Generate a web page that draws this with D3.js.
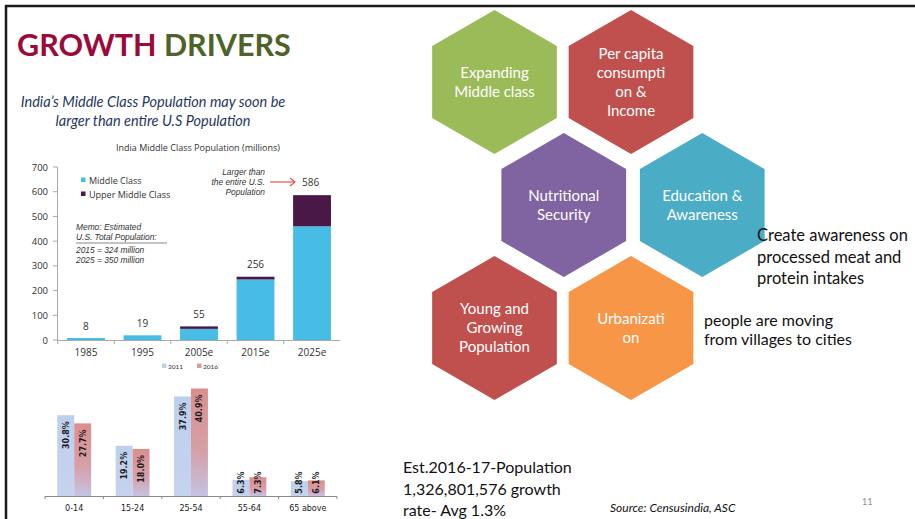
<!DOCTYPE html>
<html>
<head>
<meta charset="utf-8">
<script src="https://cdn.jsdelivr.net/npm/d3@7"></script>
<style>
  html, body { margin: 0; padding: 0; background: #fff; }
  svg { display: block; font-family: Lato, 'Noto Sans', sans-serif; }
</style>
</head>
<body>
<div id="viz"></div>
<script>
// Top chart data (millions)
const years = ['1985', '1995', '2005e', '2015e', '2025e'];
const middleClass = [8, 19, 45, 245, 460];
const upperMiddle = [0, 0, 10, 11, 126];
const totals = [8, 19, 55, 256, 586];
const yTicks = [0, 100, 200, 300, 400, 500, 600, 700];

// Bottom chart data (% share of population)
const ageGroups = ['0-14', '15-24', '25-54', '55-64', '65 above'];
const share2011 = [30.8, 19.2, 37.9, 6.3, 5.8];
const share2016 = [27.7, 18.0, 40.9, 7.3, 6.1];
const censusYears = ['2011', '2016'];

// Hexagons
const driverLabels = [
  ['Expanding', 'Middle class'],
  ['Per capita', 'consumpti', 'on &', 'Income'],
  ['Nutritional', 'Security'],
  ['Education &', 'Awareness'],
  ['Young and', 'Growing', 'Population'],
  ['Urbanizati', 'on']
];
const driverColors = ['#9BBB59', '#C0504D', '#8064A2', '#4BACC6', '#C0504D', '#F79646'];
const driverCols = [0, 1, 0.5, 1.5, 0, 1];
const driverRows = [0, 0, 1, 1, 2, 2];

const width = 915;
const height = 519;

const svg = d3.select('#viz')
  .append('svg')
    .attr('width', width)
    .attr('height', height);

svg.append('rect').attr('width', width).attr('height', height).attr('fill', '#fff');

// slide border (top + left)
svg.append('line').attr('x1', 5).attr('x2', width).attr('y1', 6).attr('y2', 6)
  .attr('stroke', '#1a1a1a').attr('stroke-width', 2.5);
svg.append('line').attr('x1', 6).attr('x2', 6).attr('y1', 5).attr('y2', height)
  .attr('stroke', '#1a1a1a').attr('stroke-width', 2.5);

// Title
const title = svg.append('text')
  .attr('x', 17).attr('y', 56)
  .style('font-size', '30.5px').style('font-weight', 'bold');
title.append('tspan').attr('fill', '#9A0A3A').text('GROWTH ');
title.append('tspan').attr('fill', '#4F6228').text('DRIVERS');

svg.append('text')
  .attr('x', 153).attr('y', 107)
  .attr('text-anchor', 'middle')
  .attr('fill', '#1F3864')
  .style('font-size', '14.5px').style('font-style', 'italic')
  .text('India\u2019s Middle Class Population may soon be');
svg.append('text')
  .attr('x', 153).attr('y', 126)
  .attr('text-anchor', 'middle')
  .attr('fill', '#1F3864')
  .style('font-size', '14.5px').style('font-style', 'italic')
  .text('larger than entire U.S Population');

// ---------- Top chart: India middle class population ----------
const topChart = svg.append('g').style('font-family', "'Open Sans', sans-serif");

const xTop = d3.scaleBand()
  .domain(years)
  .range([58, 340])
  .paddingInner(0.33)
  .paddingOuter(0.16);

const yTop = d3.scaleLinear()
  .domain([0, 700])
  .range([340, 167]);

topChart.append('text')
  .attr('x', 198).attr('y', 150.5)
  .attr('text-anchor', 'middle')
  .attr('fill', '#333')
  .style('font-size', '9px')
  .text('India Middle Class Population (millions)');

// y axis
topChart.append('line')
  .attr('x1', 57.5).attr('x2', 57.5)
  .attr('y1', yTop(700)).attr('y2', yTop(0))
  .attr('stroke', '#aaa');
topChart.selectAll('.ytick')
  .data(yTicks)
  .join('line')
    .attr('x1', 53).attr('x2', 57.5)
    .attr('y1', d => yTop(d)).attr('y2', d => yTop(d))
    .attr('stroke', '#aaa');
topChart.selectAll('.ylab')
  .data(yTicks)
  .join('text')
    .attr('x', 48).attr('y', d => yTop(d) + 3.5)
    .attr('text-anchor', 'end')
    .attr('fill', '#333')
    .style('font-size', '9.5px')
    .text(d => d);

// bars: middle class then upper middle class stacked
topChart.selectAll('.mc')
  .data(years)
  .join('rect')
    .attr('x', d => xTop(d))
    .attr('width', xTop.bandwidth())
    .attr('y', (d, i) => yTop(middleClass[i]))
    .attr('height', (d, i) => yTop(0) - yTop(middleClass[i]))
    .attr('fill', '#47BDE6');
topChart.selectAll('.umc')
  .data(years)
  .join('rect')
    .attr('x', d => xTop(d))
    .attr('width', xTop.bandwidth())
    .attr('y', (d, i) => yTop(middleClass[i] + upperMiddle[i]))
    .attr('height', (d, i) => yTop(middleClass[i]) - yTop(middleClass[i] + upperMiddle[i]))
    .attr('fill', '#4A1846');

// x axis
topChart.append('line')
  .attr('x1', 57).attr('x2', 340)
  .attr('y1', 340.5).attr('y2', 340.5)
  .attr('stroke', '#aaa');
topChart.selectAll('.xtick')
  .data(years)
  .join('line')
    .attr('x1', d => xTop(d) - xTop.step() * xTop.paddingInner() / 2)
    .attr('x2', d => xTop(d) - xTop.step() * xTop.paddingInner() / 2)
    .attr('y1', 340.5).attr('y2', 344)
    .attr('stroke', '#aaa');
topChart.selectAll('.xlab')
  .data(years)
  .join('text')
    .attr('x', d => xTop(d) + xTop.bandwidth() / 2)
    .attr('y', 355.5)
    .attr('text-anchor', 'middle')
    .attr('fill', '#333')
    .style('font-size', '10px')
    .text(d => d);

// total labels (the last one sits beside the arrow)
topChart.selectAll('.tot')
  .data(years.slice(0, 4))
  .join('text')
    .attr('x', d => xTop(d) + xTop.bandwidth() / 2)
    .attr('y', (d, i) => yTop(totals[i]) - 8.5)
    .attr('text-anchor', 'middle')
    .attr('fill', '#333')
    .style('font-size', '10px')
    .text((d, i) => totals[i]);
topChart.append('text')
  .attr('x', 302).attr('y', 185.5)
  .attr('fill', '#333')
  .style('font-size', '10px')
  .text(totals[4]);

// arrow
topChart.append('line')
  .attr('x1', 270).attr('x2', 295).attr('y1', 182).attr('y2', 182)
  .attr('stroke', '#E8504C').attr('stroke-width', 1.2);
topChart.append('path')
  .attr('d', 'M290,178 L295,182 L290,186')
  .attr('fill', 'none').attr('stroke', '#E8504C').attr('stroke-width', 1.2);

// annotation
['Larger than', 'the entire U.S.', 'Population'].forEach((t, i) => {
  topChart.append('text')
    .attr('x', 265).attr('y', 175 + i * 10)
    .attr('text-anchor', 'end')
    .attr('fill', '#333')
    .style('font-family', "'Liberation Sans', sans-serif")
    .style('font-size', '8.4px').style('font-style', 'italic')
    .text(t);
});

// legend
const topLegend = [['Middle Class', '#47BDE6'], ['Upper Middle Class', '#4A1846']];
topLegend.forEach((l, i) => {
  topChart.append('rect')
    .attr('x', 81).attr('y', 177.5 + i * 14).attr('width', 4.5).attr('height', 4.5)
    .attr('fill', l[1]);
  topChart.append('text')
    .attr('x', 89).attr('y', 183.5 + i * 14)
    .attr('fill', '#333')
    .style('font-size', '9px')
    .text(l[0]);
});

// memo
const memo = ['Memo: Estimated', 'U.S. Total Population:', '2015 = 324 million', '2025 = 350 million'];
const memoY = [230, 240, 252.5, 262.5];
memo.forEach((t, i) => {
  topChart.append('text')
    .attr('x', 76).attr('y', memoY[i])
    .attr('fill', '#333')
    .style('font-family', "'Liberation Sans', sans-serif")
    .style('font-size', '8.4px').style('font-style', 'italic')
    .text(t);
});
topChart.append('line')
  .attr('x1', 76).attr('x2', 167).attr('y1', 243).attr('y2', 243)
  .attr('stroke', '#555').attr('stroke-width', 0.7);

// ---------- Bottom chart: age structure ----------
const defs = svg.append('defs');
const g1 = defs.append('linearGradient').attr('id', 'gBlue').attr('x1', 0).attr('x2', 0).attr('y1', 0).attr('y2', 1);
g1.append('stop').attr('offset', '0%').attr('stop-color', '#BCD0EE');
g1.append('stop').attr('offset', '100%').attr('stop-color', '#C7D2EE');
const g2 = defs.append('linearGradient').attr('id', 'gRed').attr('x1', 0).attr('x2', 0).attr('y1', 0).attr('y2', 1);
g2.append('stop').attr('offset', '0%').attr('stop-color', '#DC8E8C');
g2.append('stop').attr('offset', '60%').attr('stop-color', '#D6A0AA');
g2.append('stop').attr('offset', '100%').attr('stop-color', '#C4C4E4');

const xAge = d3.scaleBand()
  .domain(ageGroups)
  .range([45, 337])
  .paddingInner(0.42)
  .paddingOuter(0.21);
const xSub = d3.scaleBand()
  .domain(censusYears)
  .range([0, xAge.bandwidth()]);
const yAge = d3.scaleLinear()
  .domain([0, 45])
  .range([496.5, 377.7]);

const ageSeries = [share2011, share2016];
const ageFills = ['url(#gBlue)', 'url(#gRed)'];

censusYears.forEach((yr, s) => {
  const vals = ageSeries[s];
  svg.append('g').selectAll('rect')
    .data(ageGroups)
    .join('rect')
      .attr('x', d => xAge(d) + xSub(yr))
      .attr('width', xSub.bandwidth())
      .attr('y', (d, i) => yAge(vals[i]))
      .attr('height', (d, i) => yAge(0) - yAge(vals[i]))
      .attr('fill', ageFills[s]);

  svg.append('g').selectAll('text')
    .data(ageGroups)
    .join('text')
      .attr('transform', (d, i) => {
        const top = yAge(vals[i]);
        const yEnd = (yAge(0) - top) < 30 ? yAge(0) - 25 : top + 6;
        return `translate(${xAge(d) + xSub(yr) + xSub.bandwidth() / 2 + 3},${yEnd}) rotate(-90)`;
      })
      .attr('text-anchor', 'end')
      .attr('fill', '#1a1a1a')
      .style('font-size', '8px').style('font-weight', 'bold')
      .style('font-family', "'DejaVu Sans', sans-serif")
      .text((d, i) => vals[i].toFixed(1) + '%');
});

svg.append('line')
  .attr('x1', 45).attr('x2', 337).attr('y1', 496.5).attr('y2', 496.5)
  .attr('stroke', '#888');
svg.append('g').selectAll('line')
  .data(d3.range(ageGroups.length + 1))
  .join('line')
    .attr('x1', i => 45 + i * xAge.step())
    .attr('x2', i => 45 + i * xAge.step())
    .attr('y1', 496.5).attr('y2', 499)
    .attr('stroke', '#888');
svg.append('g').selectAll('text')
  .data(ageGroups)
  .join('text')
    .attr('x', d => xAge(d) + xAge.bandwidth() / 2)
    .attr('y', 511)
    .attr('text-anchor', 'middle')
    .attr('fill', '#1a1a1a')
    .style('font-size', '8px')
    .style('font-family', "'DejaVu Sans', sans-serif")
    .text(d => d);

// bottom legend
const legFills = ['#BCD0EE', '#DC9A9C'];
censusYears.forEach((yr, i) => {
  svg.append('rect')
    .attr('x', 162 + i * 35).attr('y', 363.5).attr('width', 4.5).attr('height', 4.5)
    .attr('fill', legFills[i]);
  svg.append('text')
    .attr('x', 168 + i * 35).attr('y', 368.5)
    .attr('fill', '#333')
    .style('font-size', '6.5px')
    .text(yr);
});

// ---------- Hexagons ----------
const r = 72;
const xHex = d3.scaleLinear().domain([0, 1]).range([494.5, 631]);
const yHex = d3.scaleLinear().domain([0, 2]).range([82, 328]);
const hexPath = d3.range(6).map(k => {
  const a = Math.PI / 3 * k - Math.PI / 2;
  return [r * Math.cos(a), r * Math.sin(a)];
});

driverLabels.forEach((lines, i) => {
  const g = svg.append('g')
    .attr('transform', `translate(${xHex(driverCols[i]) + (driverRows[i] === 1 ? driverCols[i] * 2 : 0)},${yHex(driverRows[i])})`);
  g.append('path')
    .attr('d', d3.line()(hexPath) + 'Z')
    .attr('fill', driverColors[i]);
  g.selectAll('text')
    .data(lines)
    .join('text')
      .attr('x', 0)
      .attr('y', (d, j) => (j - (lines.length - 1) / 2) * 19 + 5)
      .attr('text-anchor', 'middle')
      .attr('fill', '#fff')
      .style('font-size', '15px')
      .text(d => d);
});

// side notes
const note1 = ['Create awareness on', 'processed meat and', 'protein intakes'];
note1.forEach((t, i) => {
  svg.append('text')
    .attr('x', 757).attr('y', 241 + i * 21.5)
    .attr('fill', '#111')
    .style('font-size', '16.5px')
    .text(t);
});
const note2 = ['people are moving', 'from villages to cities'];
note2.forEach((t, i) => {
  svg.append('text')
    .attr('x', 704).attr('y', 326 + i * 18.5)
    .attr('fill', '#111')
    .style('font-size', '16px')
    .text(t);
});
const note3 = ['Est.2016-17-Population', '1,326,801,576 growth', 'rate- Avg 1.3%'];
note3.forEach((t, i) => {
  svg.append('text')
    .attr('x', 403).attr('y', 473 + i * 21.5)
    .attr('fill', '#111')
    .style('font-size', '16px')
    .text(t);
});

svg.append('text')
  .attr('x', 610).attr('y', 512)
  .attr('fill', '#111')
  .style('font-size', '12px').style('font-style', 'italic')
  .text('Source: Censusindia, ASC');

svg.append('text')
  .attr('x', 862).attr('y', 505)
  .attr('fill', '#8c8c8c')
  .style('font-size', '9px')
  .text('11');
</script>
</body>
</html>
